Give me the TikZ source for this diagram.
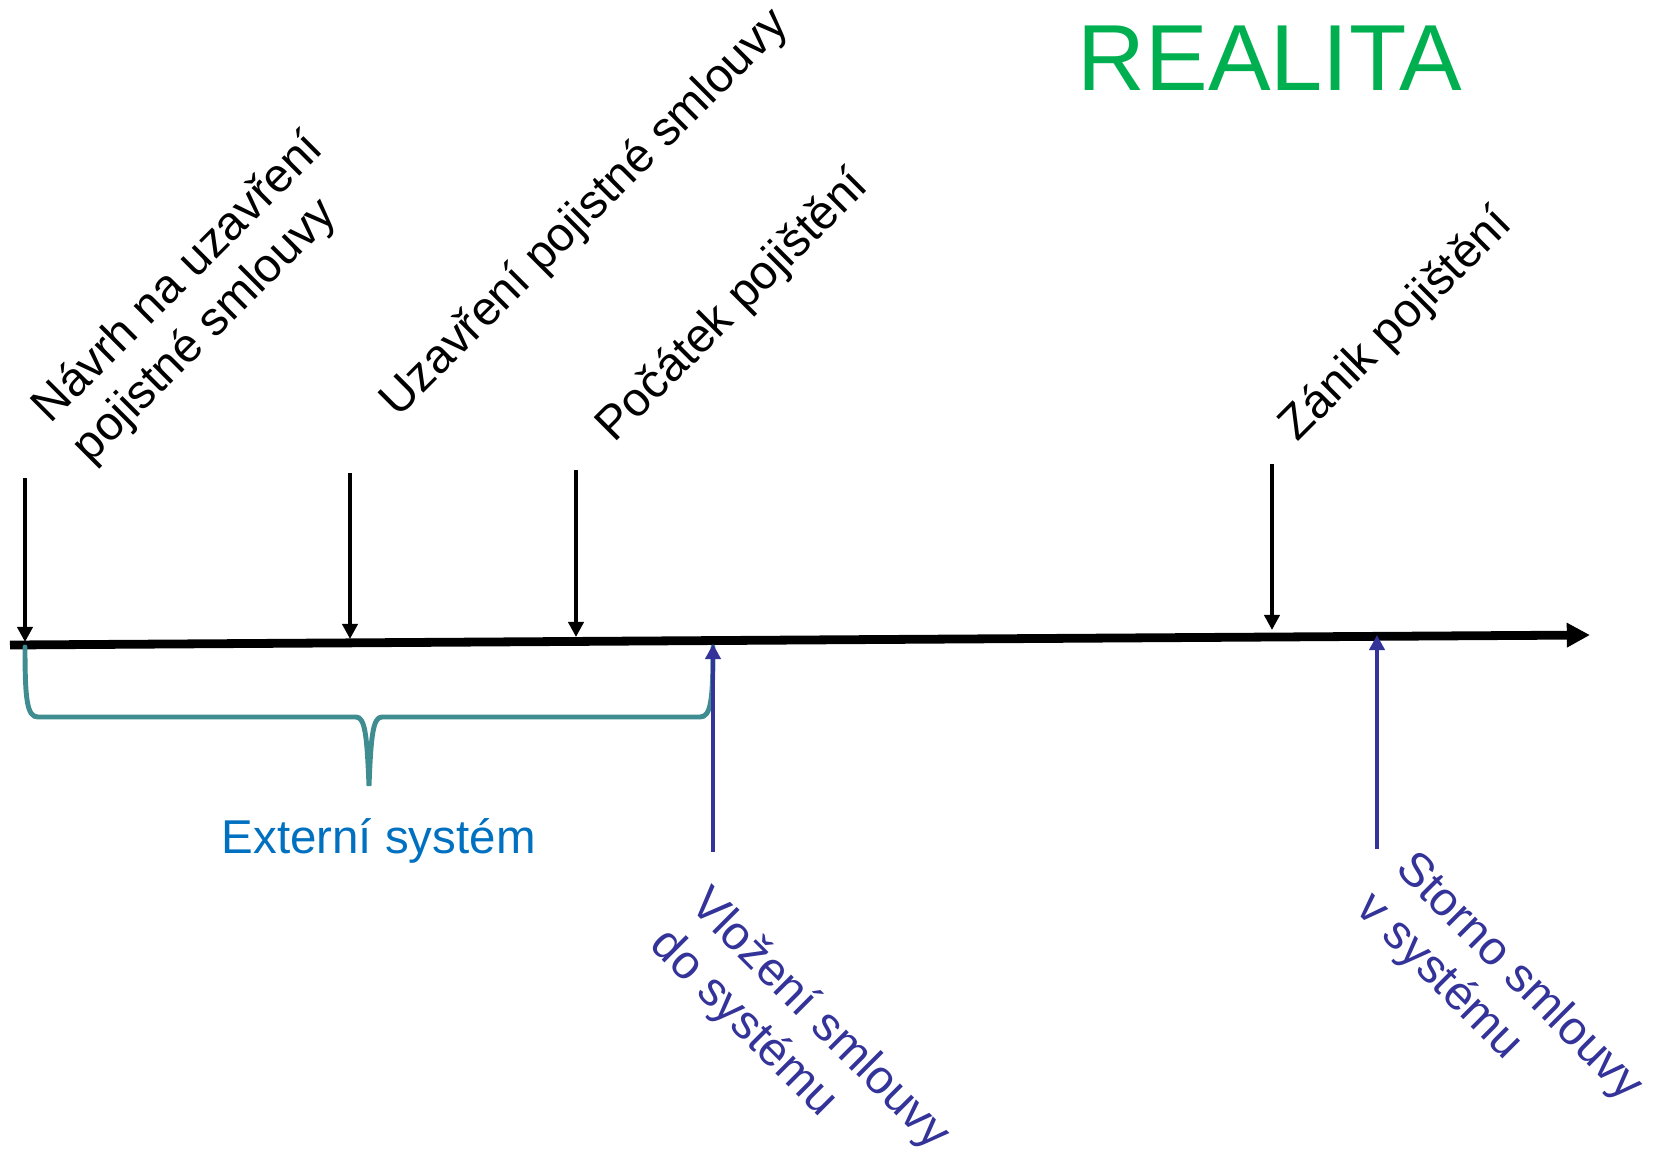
\documentclass[tikz,border=0pt]{standalone}
\usepackage{fontspec}
\setmainfont{Liberation Sans}
\usetikzlibrary{arrows.meta,positioning}
\definecolor{sysblue}{RGB}{51,51,153}
\definecolor{extblue}{RGB}{0,112,192}
\definecolor{realgreen}{RGB}{0,176,80}
\definecolor{braceteal}{RGB}{64,141,145}
\tikzset{
  timeaxis/.style={line width=2.5pt, -{Triangle[length=6.6pt, width=6.6pt]}},
  eventarrow/.style={line width=1.05pt, -{Triangle[length=4.3pt, width=4.3pt]}},
  systemarrow/.style={sysblue, line width=1.1pt, -{Triangle[length=4.3pt, width=4.3pt]}},
  labelfont/.style={font=\fontsize{13.5}{15.9}\selectfont, inner sep=0pt,
    anchor=base west, align=left},
  eventlabel/.style={labelfont, rotate=45},
  systemlabel/.style={labelfont, sysblue, rotate=-45},
  extbrace/.style={braceteal, line width=1.4pt, line cap=round},
}

\begin{document}
\begin{tikzpicture}[x=0.01cm, y=-0.01cm]
  \useasboundingbox (0,0) rectangle (1653,1150);
  % axis and event points
  \coordinate (axisstart) at (10,645);
  \coordinate (axisend) at (1590,635);
  \coordinate (navrhtop) at (25,478);
  \coordinate (navrh) at (25,642);
  \coordinate (uzavtop) at (350,473);
  \coordinate (uzav) at (350,639);
  \coordinate (pocatektop) at (576,470);
  \coordinate (pocatek) at (576,637);
  \coordinate (zaniktop) at (1272,464);
  \coordinate (zanik) at (1272,630);
  \coordinate (vlozenibot) at (713,852);
  \coordinate (vlozeni) at (713,644);
  \coordinate (stornobot) at (1377,849);
  \coordinate (storno) at (1377,635);

  \draw[timeaxis] (axisstart) -- (axisend);
  \draw[eventarrow] (navrhtop) -- (navrh);
  \draw[eventarrow] (uzavtop) -- (uzav);
  \draw[eventarrow] (pocatektop) -- (pocatek);
  \draw[eventarrow] (zaniktop) -- (zanik);

  % brace of the external system
  \draw[extbrace] (25,647) .. controls (25,700) and (27,717) .. (38,717)
    -- (356,717) .. controls (365,717) and (367,735) .. (369,786)
    .. controls (371,735) and (373,717) .. (382,717)
    -- (700,717) .. controls (711,717) and (713,700) .. (713,647);

  \draw[systemarrow] (vlozenibot) -- (vlozeni);
  \draw[systemarrow] (stornobot) -- (storno);

  % labels (base west of a two-line label is on its last line)
  \node[eventlabel] (navrhlbl) at (90,465) {Návrh na uzavření\\pojistné smlouvy};
  \node[eventlabel] (uzavlbl) at (398,419) {Uzavření pojistné smlouvy};
  \node[eventlabel] (pocateklbl) at (614,444) {Počátek pojištění};
  \node[eventlabel] (zaniklbl) at (1297,443) {Zánik pojištění};
  \node[systemlabel] (vlozenilbl) at (648,946) {Vložení smlouvy\\do systému};
  \node[systemlabel] (stornolbl) at (1354,910) {Storno smlouvy\\v systému};
  \node[labelfont, extblue] (externilbl) at (221,853) {Externí systém};
  \node[labelfont, realgreen, font=\fontsize{26.7}{30}\selectfont] (realitalbl) at (1077,90) {REALITA};
\end{tikzpicture}
\end{document}
